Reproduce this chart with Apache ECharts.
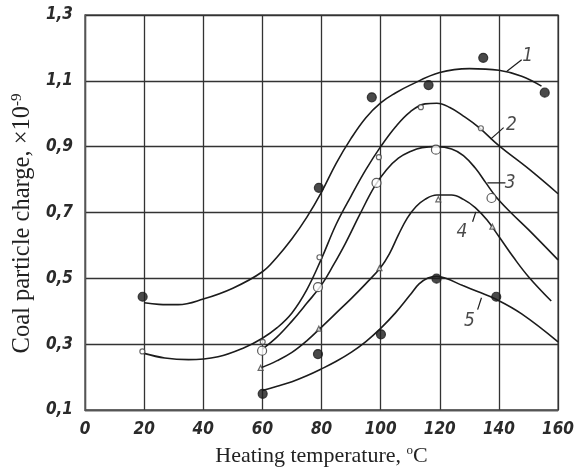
<!DOCTYPE html>
<html>
<head>
<meta charset="utf-8">
<script src="https://cdn.jsdelivr.net/npm/echarts@6/dist/echarts.min.js"></script>
<style>
html,body{margin:0;padding:0;background:#fff;}
#chart{width:577px;height:472px;}
</style>
</head>
<body>
<div id="chart"></div>
<script>
// ---- data ----
const xTicks = [0, 20, 40, 60, 80, 100, 120, 140, 160];
const yTicks = [0.1, 0.3, 0.5, 0.7, 0.9, 1.1, 1.3];

// fitted curves (drawn lines)
const curve1 = [[20,0.426],[25,0.421],[31.5,0.42],[40,0.437],[50,0.47],[60,0.52],[65,0.565],[70,0.62],[75,0.685],[80,0.762],[85,0.85],[90,0.925],[95,0.988],[100,1.033],[105,1.063],[110,1.087],[120,1.125],[130,1.137],[140,1.132],[147.7,1.114],[154.4,1.084]];
const curve2 = [[20,0.272],[27,0.258],[35,0.253],[45,0.262],[54,0.29],[60,0.318],[65,0.35],[70,0.395],[75,0.465],[80,0.56],[85,0.665],[90,0.75],[95,0.83],[100,0.9],[105,0.96],[110,1.006],[115,1.03],[119,1.032],[123.4,1.019],[128,0.993],[133.3,0.958],[140,0.903],[150,0.833],[160,0.757]];
const curve3 = [[60,0.285],[65,0.322],[70,0.37],[75,0.424],[80,0.48],[84,0.54],[88,0.605],[93,0.695],[98,0.78],[102,0.83],[106,0.865],[110,0.885],[114,0.897],[119,0.9],[124,0.893],[128,0.873],[132,0.835],[135.6,0.79],[139,0.748],[144,0.70],[150,0.648],[160,0.556]];
const curve4 = [[59.5,0.228],[65,0.25],[70,0.275],[75,0.31],[80,0.352],[85,0.395],[90.2,0.44],[95,0.484],[100,0.533],[103,0.575],[106,0.632],[109,0.683],[112,0.718],[115,0.74],[119,0.753],[124,0.753],[128,0.74],[132,0.715],[136,0.677],[140,0.627],[145,0.563],[150,0.505],[157.7,0.431]];
const curve5 = [[60,0.159],[65,0.172],[70,0.186],[75,0.204],[80,0.225],[85,0.248],[90,0.275],[95,0.308],[100,0.348],[105,0.395],[110,0.45],[113,0.483],[116,0.501],[119,0.506],[122,0.5],[127.8,0.478],[133,0.459],[138.9,0.437],[147.7,0.392],[160,0.307]];

// measured points
const points1 = [[19.5,0.444],[79.1,0.775],[97,1.05],[116.2,1.087],[134.7,1.17],[155.5,1.064]];
const points2 = [[19.4,0.278],[60.1,0.307],[79.3,0.564],[99.4,0.868],[113.6,1.02],[133.9,0.956]];
const points3 = [[59.9,0.28],[78.8,0.473],[98.6,0.79],[118.7,0.891],[137.5,0.744]];
const points4 = [[59.4,0.228],[79.1,0.347],[99.6,0.531],[119.5,0.74],[137.8,0.657]];
const points5 = [[60.1,0.149],[78.8,0.27],[100.1,0.33],[118.9,0.499],[139.1,0.444]];

// curve number labels and their leader lines
const curveNames = ['1', '2', '3', '4', '5'];
const labelPos = [[149.7,1.174],[144.2,0.965],[143.8,0.79],[127.5,0.642],[130.0,0.370]];
const leaders = [
  [[142.7,1.129],[147.7,1.164]],
  [[137.2,0.923],[141.6,0.958]],
  [[136.1,0.79],[142.2,0.79]],
  [[132.2,0.702],[131.1,0.672]],
  [[134.1,0.441],[132.8,0.405]]
];

const xTitle = 'Heating temperature, ';
const yTitle = 'Coal particle charge, ×10';

// ---- chart ----
const ink = '#1c1c1c';
const tickFont = {fontFamily: '"Liberation Sans Narrow","DejaVu Sans Condensed",sans-serif', fontStyle: 'italic', fontWeight: 'bold', fontSize: 17, color: '#2a2a2a'};
const serif = '"Liberation Serif","Times New Roman",serif';

const curves = [curve1, curve2, curve3, curve4, curve5];
const pointSets = [points1, points2, points3, points4, points5];
const markerStyles = [
  {symbol: 'circle', size: 9, fill: ink, stroke: ink},
  {symbol: 'circle', size: 5, fill: '#fff', stroke: '#444'},
  {symbol: 'circle', size: 9, fill: '#fff', stroke: '#333'},
  {symbol: 'triangle', size: 5, fill: '#fff', stroke: '#444'},
  {symbol: 'circle', size: 9, fill: ink, stroke: ink}
];

const series = [];
curves.forEach((c) => {
  series.push({type: 'line', data: c, smooth: 0.4, showSymbol: false, silent: true,
    lineStyle: {color: ink, width: 1.6}, z: 3});
});
pointSets.forEach((p, i) => {
  const m = markerStyles[i];
  series.push({type: 'scatter', data: p, symbol: m.symbol, symbolSize: m.size, silent: true,
    itemStyle: {color: m.fill, borderColor: m.stroke, borderWidth: 1.2}, z: 4});
});
leaders.forEach(l => {
  series.push({type: 'line', data: l, showSymbol: false, silent: true,
    lineStyle: {color: ink, width: 1.2}, z: 3});
});
series.push({type: 'scatter', silent: true, symbolSize: 2,
  itemStyle: {color: 'rgba(0,0,0,0)', borderWidth: 0},
  data: labelPos.map((p, i) => ({value: p, name: curveNames[i]})),
  label: {show: true, position: 'inside', formatter: '{b}',
    fontFamily: tickFont.fontFamily, fontStyle: 'italic', fontSize: 19, color: ink},
  z: 5});

const chart = echarts.init(document.getElementById('chart'), null, {renderer: 'canvas'});
chart.setOption({
  animation: false,
  backgroundColor: '#fff',
  grid: {left: 85, right: 10, top: 15, bottom: 59, show: true, borderColor: '#555', borderWidth: 1.3},
  xAxis: {
    type: 'value', min: xTicks[0], max: xTicks[xTicks.length - 1], interval: 20,
    axisLine: {show: true, lineStyle: {color: '#555', width: 1.3}},
    axisTick: {show: false},
    splitLine: {show: true, lineStyle: {color: '#333', width: 1.3}},
    axisLabel: Object.assign({margin: 11}, tickFont),
    name: '{a|' + xTitle + '}{s|o}{a|C}',
    nameLocation: 'middle', nameGap: 34,
    nameTextStyle: {rich: {
      a: {fontFamily: serif, fontSize: 22, color: '#222', lineHeight: 24},
      s: {fontFamily: serif, fontSize: 13, color: '#222', verticalAlign: 'top', lineHeight: 14}
    }}
  },
  yAxis: {
    type: 'value', min: yTicks[0], max: yTicks[yTicks.length - 1], interval: 0.2,
    axisLine: {show: true, lineStyle: {color: '#555', width: 1.3}},
    axisTick: {show: false},
    splitLine: {show: true, lineStyle: {color: '#333', width: 1.3}},
    axisLabel: Object.assign({margin: 12, formatter: v => v.toFixed(1).replace('.', ',')}, tickFont),
    name: '{a|' + yTitle + '}{s|-9}',
    nameLocation: 'middle', nameGap: 47, nameRotate: 90,
    nameTextStyle: {padding: [0, 22, 0, 0], rich: {
      a: {fontFamily: serif, fontSize: 24.5, color: '#222', lineHeight: 26},
      s: {fontFamily: serif, fontSize: 15, color: '#222', verticalAlign: 'top', lineHeight: 15}
    }}
  },
  series: series
});
</script>
</body>
</html>
